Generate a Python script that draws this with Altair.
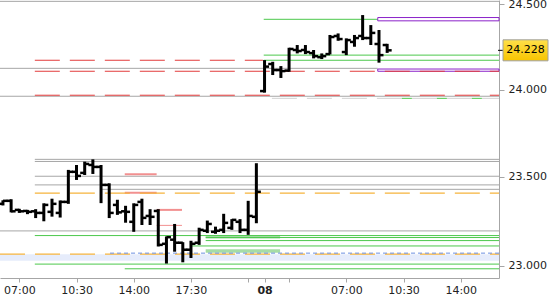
import altair as alt
import pandas as pd

# ---------------- data ----------------
# bar slots: 30-minute bars, slot 0 = 07:00 of first day (session gaps compressed)
slots = list(range(-2, 46))
opens = [23.347, 23.364, 23.313, 23.307, 23.305, 23.296, 23.302, 23.296, 23.358, 23.528,
         23.522, 23.567, 23.556, 23.454, 23.341, 23.305, 23.246, 23.358, 23.279, 23.307,
         23.123, 23.146, 23.129, 23.090, 23.129, 23.196, 23.190, 23.201, 23.212, 23.246,
         23.201, 23.274,
         23.991, 24.148, 24.113, 24.110, 24.230, 24.230, 24.212, 24.188, 24.206, 24.312,
         24.218, 24.277, 24.312, 24.300, 24.265, 24.259]
highs = [23.367, 23.373, 23.319, 23.313, 23.317, 23.350, 23.376, 23.366, 23.539, 23.567,
         23.586, 23.599, 23.567, 23.463, 23.370, 23.336, 23.350, 23.376, 23.317, 23.317,
         23.164, 23.234, 23.132, 23.140, 23.213, 23.253, 23.219, 23.291, 23.261, 23.261,
         23.364, 23.577,
         24.171, 24.161, 24.136, 24.243, 24.259, 24.259, 24.230, 24.210, 24.318, 24.327,
         24.298, 24.318, 24.435, 24.376, 24.347, 24.266]
lows = [23.338, 23.299, 23.296, 23.289, 23.267, 23.249, 23.275, 23.270, 23.347, 23.482,
        23.510, 23.516, 23.351, 23.267, 23.285, 23.241, 23.190, 23.228, 23.228, 23.108,
        23.013, 23.079, 23.020, 23.044, 23.117, 23.183, 23.179, 23.183, 23.201, 23.183,
        23.173, 23.238,
        23.982, 24.084, 24.067, 24.103, 24.210, 24.206, 24.181, 24.177, 24.204, 24.284,
        24.200, 24.249, 24.288, 24.259, 24.156, 24.213]
closes = [23.364, 23.305, 23.305, 23.302, 23.296, 23.341, 23.347, 23.358, 23.528, 23.505,
          23.573, 23.556, 23.454, 23.296, 23.299, 23.302, 23.341, 23.268, 23.274, 23.117,
          23.160, 23.129, 23.090, 23.123, 23.201, 23.234, 23.196, 23.240, 23.257, 23.201,
          23.279, 23.415,
          24.133, 24.113, 24.107, 24.236, 24.224, 24.218, 24.194, 24.194, 24.306, 24.294,
          24.288, 24.300, 24.300, 24.330, 24.200, 24.228]

X_MIN, X_MAX = -2.36, 58.68
Y_MIN, Y_MAX = 22.933, 24.524

tick_slots = [0, 7, 14, 21, 28, 30, 33, 40, 47, 54]
tick_labels = ["07:00", "10:30", "14:00", "17:30", "", "08", "", "07:00", "10:30", "14:00"]
price_ticks = [23.0, 23.5, 24.0, 24.5]

L, R = X_MIN, X_MAX
# levels: (price, start slot, end slot)
gray_levels = [(24.516, L, R), (24.123, L, 43.85), (23.961, L, R), (23.599, 1.9, R),
               (23.587, 1.9, R), (23.503, 1.9, R), (23.454, 1.9, R), (23.429, 9.9, R),
               (23.195, L, R)]
red_dashed = [(24.170, 1.9, 29.8), (24.106, 1.9, R), (23.967, 1.9, R)]
green_levels = [(24.410, 29.9, 43.85), (24.200, 29.9, R), (24.170, 29.9, R),
                (23.169, 1.9, R), (23.158, 22.8, R), (23.141, 22.8, R),
                (23.111, 20.9, R), (23.010, 1.9, R), (22.984, 12.9, R)]
pink_thick = [(23.514, 12.9, 16.8), (23.410, 12.9, 16.8), (23.313, 16.8, 19.9)]
pink_thin = [(23.226, 16.8, 19.9)]
orange_dashed = [(23.407, 1.9, R), (23.065, L, R)]
blue_dashed = [(23.071, 11.1, R)]
lightgray_dashed = [(23.949, 30.9, R)]
green_dashed = [(23.949, 46.8, R)]
purple_boxes = [(24.4204, 24.401, 43.85, R), (24.119, 24.106, 43.85, R)]
blue_bands = [(23.065, 23.029, L, R)]
green_bands = [(23.169, 23.152, 22.8, 31.9), (23.093, 23.073, 22.8, 31.9)]

# ---------------- chart ----------------
FONT = "DejaVu Sans"
label_expr = " : ".join(
    f"datum.value == {v} ? '{t}'" for v, t in zip(tick_slots, tick_labels)) + " : ''"

xscale = alt.Scale(domain=[X_MIN, X_MAX], nice=False, zero=False)
yscale = alt.Scale(type="log", domain=[Y_MIN, Y_MAX], nice=False, zero=False)
xaxis = alt.Axis(values=tick_slots, labelExpr=label_expr, tickSize=4, labelPadding=2,
                 domainColor="#a6a6a6", tickColor="#a6a6a6", labelColor="#222222",
                 labelFont=FONT, labelFontSize=11, grid=False, title=None,
                 labelOverlap=False, labelFlush=False,
                 labelFontWeight={"condition": {"test": "datum.value == 30", "value": "bold"},
                                  "value": "normal"})
yaxis = alt.Axis(orient="right", values=price_ticks, format=".3f", tickSize=5,
                 labelPadding=4, domainColor="#a6a6a6", tickColor="#a6a6a6",
                 labelColor="#222222", labelFont=FONT, labelFontSize=11,
                 grid=False, title=None)


def X(f):
    return alt.X(f, type="quantitative", scale=xscale, axis=xaxis)


def Y(f):
    return alt.Y(f, type="quantitative", scale=yscale, axis=yaxis)


def level_df(levels):
    return pd.DataFrame(levels, columns=["y", "x0", "x1"])


def box_df(boxes):
    return pd.DataFrame(boxes, columns=["y0", "y1", "x0", "x1"])


def rules(levels, color, width=1.0, dash=None):
    kw = dict(color=color, strokeWidth=width)
    if dash:
        kw["strokeDash"] = dash
    return alt.Chart(level_df(levels)).mark_rule(**kw).encode(
        x=X("x0"), x2="x1", y=Y("y"))


def bands(boxes, fill, stroke=None):
    kw = dict(fill=fill)
    if stroke:
        kw.update(stroke=stroke, strokeWidth=1, fillOpacity=0)
    return alt.Chart(box_df(boxes)).mark_rect(**kw).encode(
        x=X("x0"), x2="x1", y=Y("y0"), y2="y1")


bars = pd.DataFrame({"slot": slots, "o": opens, "h": highs, "l": lows, "c": closes})
bars["left"] = bars["slot"] - 0.55
bars["right"] = bars["slot"] + 0.55

base = alt.Chart(bars)
hl = base.mark_rule(color="black", strokeWidth=3).encode(x=X("slot"), y=Y("l"), y2="h")
op = base.mark_rule(color="black", strokeWidth=2.5).encode(x=X("left"), x2="slot", y=Y("o"))
cl = base.mark_rule(color="black", strokeWidth=2.5).encode(x=X("slot"), x2="right", y=Y("c"))

last = pd.DataFrame({"y": [closes[-1]], "txt": [f"{closes[-1]:.3f}"]})
box_shape = "M-1,-0.467H1V0.467H-1Z"
price_box = alt.Chart(last).mark_point(
    shape=box_shape, size=2025, filled=True, opacity=1, clip=False,
    fill=alt.LinearGradient(gradient="linear", x1=0, x2=0, y1=0, y2=1,
                            stops=[alt.GradientStop(color="#ffe04a", offset=0),
                                   alt.GradientStop(color="#f7c400", offset=1)]),
    stroke="#a0a0a0", strokeWidth=1
).encode(x=alt.value(525.5), y=Y("y"))
price_txt = alt.Chart(last).mark_text(
    font=FONT, fontSize=11, color="black", align="center", baseline="middle", clip=False
).encode(x=alt.value(525.5), y=Y("y"), text="txt:N")
price_tick = alt.Chart(last).mark_rule(color="black", strokeWidth=1, clip=False).encode(
    x=alt.value(498), x2=alt.value(503), y=Y("y"))

chart = alt.layer(
    bands(blue_bands, "#e6ecfb"),
    bands(green_bands, "#a6dca6"),
    rules(gray_levels, "#a6a6a6"),
    rules(green_levels, "#4cc84c"),
    rules(pink_thick, "#f29090", 2),
    rules(pink_thin, "#f29090", 1),
    rules(lightgray_dashed, "#d2d2d2", 1, [25, 10]),
    rules(green_dashed, "#4cc84c", 1, [10, 25]),
    bands(purple_boxes, "#ffffff", stroke="#8b22c9"),
    rules(red_dashed, "#e23b3b", 1, [25, 10]),
    rules(orange_dashed, "#f6b43c", 1.3, [25, 10]),
    rules(blue_dashed, "#6b8fe0", 1, [4, 3]),
    hl, op, cl,
    price_tick, price_box, price_txt,
).properties(
    width=499, height=278,
    padding={"left": 0, "top": 0, "right": 51, "bottom": 22},
    autosize=alt.AutoSizeParams(type="none"),
    background="white",
).configure_view(stroke=None)

chart.save("out.html", embed_options={"renderer": "svg", "actions": False})
